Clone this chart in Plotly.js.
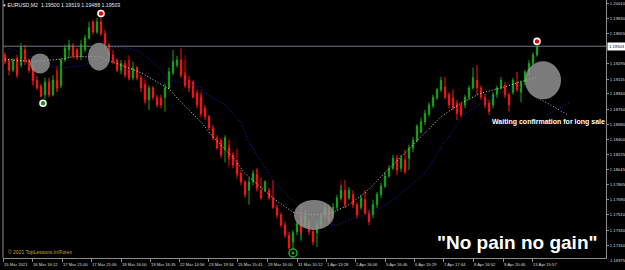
<!DOCTYPE html>
<html><head><meta charset="utf-8">
<script src="https://cdn.plot.ly/plotly-3.0.1.min.js"></script>
<style>html,body{margin:0;padding:0;background:#000;}#chart{width:625px;height:270px;}</style>
</head><body><div id="chart"></div>
<script>
const symbolName = "EURUSD,M2";
const quote = ["1.19500", "1.19519", "1.19488", "1.19503"];
const currentPrice = 1.19503;

const opens = [1.1940,1.1934,1.1922,1.1936,1.1928,1.1946,1.1934,1.1925,1.1910,1.1903,1.1893,1.1908,1.1893,1.1910,1.1904,1.1934,1.1946,1.1951,1.1946,1.1938,
1.1946,1.1960,1.1979,1.1967,1.1979,1.1965,1.1952,1.1940,1.1934,1.1922,1.1930,1.1922,1.1913,1.1925,1.1913,1.1904,1.1887,1.1901,1.1890,1.1889,
1.1890,1.1901,1.1919,1.1928,1.1934,1.1916,1.1910,1.1908,1.1895,1.1890,1.1877,1.1867,1.1854,1.1842,1.1839,1.1828,1.1830,1.1822,1.1812,1.1800,
1.1790,1.1780,1.1790,1.1798,1.1780,1.1780,1.1780,1.1771,1.1760,1.1751,1.1739,1.1727,1.1719,1.1731,1.1749,1.1739,1.1741,1.1731,1.1730,1.1739,
1.1751,1.1760,1.1751,1.1760,1.1771,1.1780,1.1771,1.1775,1.1763,1.1760,1.1769,1.1753,1.1751,1.1763,1.1775,1.1785,1.1797,1.1806,1.1818,1.1806,
1.1816,1.1818,1.1830,1.1839,1.1849,1.1861,1.1870,1.1880,1.1889,1.1899,1.1902,1.1893,1.1889,1.1883,1.1881,1.1881,1.1890,1.1901,1.1910,1.1901,
1.1890,1.1883,1.1881,1.1893,1.1901,1.1904,1.1893,1.1896,1.1908,1.1896,1.1908,1.1920,1.1930,1.1940];
const highs = [1.1943,1.1936,1.1936,1.1940,1.1954,1.1952,1.1936,1.1928,1.1915,1.1906,1.1913,1.1913,1.1916,1.1922,1.1936,1.1952,1.1958,1.1954,1.1948,1.1958,
1.1964,1.1979,1.1981,1.1984,1.1986,1.1970,1.1954,1.1946,1.1936,1.1934,1.1934,1.1934,1.1932,1.1927,1.1916,1.1907,1.1904,1.1903,1.1893,1.1893,
1.1906,1.1925,1.1946,1.1939,1.1948,1.1920,1.1915,1.1910,1.1899,1.1893,1.1881,1.1869,1.1857,1.1845,1.1842,1.1845,1.1834,1.1825,1.1816,1.1804,
1.1792,1.1795,1.1804,1.1806,1.1795,1.1792,1.1783,1.1792,1.1763,1.1754,1.1743,1.1731,1.1733,1.1745,1.1763,1.1757,1.1745,1.1736,1.1743,1.1752,
1.1765,1.1763,1.1765,1.1775,1.1786,1.1792,1.1784,1.1780,1.1766,1.1775,1.1780,1.1757,1.1769,1.1778,1.1789,1.1802,1.1810,1.1822,1.1822,1.1822,
1.1828,1.1834,1.1843,1.1858,1.1866,1.1875,1.1884,1.1893,1.1901,1.1914,1.1914,1.1896,1.1899,1.1887,1.1884,1.1893,1.1904,1.1925,1.1928,1.1904,
1.1894,1.1887,1.1896,1.1904,1.1914,1.1908,1.1896,1.1913,1.1920,1.1910,1.1922,1.1934,1.1943,1.1953];
const lows = [1.1929,1.1916,1.1920,1.1913,1.1925,1.1928,1.1919,1.1904,1.1899,1.1890,1.1888,1.1890,1.1891,1.1896,1.1901,1.1932,1.1936,1.1936,1.1934,1.1934,
1.1943,1.1958,1.1964,1.1965,1.1962,1.1948,1.1936,1.1929,1.1920,1.1917,1.1913,1.1910,1.1910,1.1910,1.1896,1.1883,1.1875,1.1887,1.1878,1.1877,
1.1873,1.1899,1.1916,1.1925,1.1913,1.1901,1.1896,1.1889,1.1877,1.1869,1.1863,1.1851,1.1839,1.1828,1.1818,1.1813,1.1816,1.1806,1.1797,1.1786,
1.1771,1.1763,1.1786,1.1780,1.1769,1.1778,1.1769,1.1758,1.1747,1.1736,1.1724,1.1710,1.1710,1.1727,1.1727,1.1736,1.1727,1.1715,1.1713,1.1736,
1.1747,1.1741,1.1747,1.1757,1.1769,1.1759,1.1769,1.1759,1.1747,1.1757,1.1751,1.1739,1.1747,1.1759,1.1771,1.1783,1.1795,1.1804,1.1798,1.1802,
1.1799,1.1804,1.1825,1.1837,1.1847,1.1857,1.1867,1.1877,1.1887,1.1896,1.1888,1.1877,1.1875,1.1863,1.1866,1.1877,1.1887,1.1899,1.1893,1.1887,
1.1877,1.1869,1.1877,1.1889,1.1899,1.1889,1.1873,1.1893,1.1896,1.1884,1.1904,1.1916,1.1927,1.1938];
const closes = [1.1932,1.1922,1.1934,1.1916,1.1949,1.1932,1.1922,1.1910,1.1901,1.1891,1.1908,1.1893,1.1910,1.1901,1.1934,1.1948,1.1952,1.1939,1.1938,1.1952,
1.1960,1.1972,1.1967,1.1979,1.1965,1.1952,1.1940,1.1932,1.1922,1.1930,1.1916,1.1913,1.1925,1.1913,1.1901,1.1887,1.1901,1.1890,1.1881,1.1881,
1.1901,1.1920,1.1932,1.1934,1.1916,1.1904,1.1901,1.1890,1.1881,1.1871,1.1867,1.1854,1.1842,1.1830,1.1822,1.1842,1.1819,1.1810,1.1800,1.1790,
1.1775,1.1790,1.1800,1.1783,1.1771,1.1790,1.1771,1.1760,1.1751,1.1739,1.1727,1.1712,1.1730,1.1741,1.1731,1.1749,1.1731,1.1719,1.1739,1.1749,
1.1760,1.1745,1.1760,1.1771,1.1780,1.1763,1.1780,1.1763,1.1751,1.1771,1.1753,1.1743,1.1763,1.1775,1.1785,1.1797,1.1806,1.1818,1.1804,1.1818,
1.1802,1.1830,1.1839,1.1856,1.1861,1.1871,1.1881,1.1890,1.1899,1.1910,1.1890,1.1881,1.1877,1.1871,1.1869,1.1890,1.1901,1.1913,1.1901,1.1890,
1.1881,1.1873,1.1893,1.1901,1.1910,1.1893,1.1881,1.1910,1.1899,1.1907,1.1920,1.1930,1.1940,1.1950];

const darkBars  = [7, 13, 31, 35, 45, 49, 56, 58, 63, 74, 84];
const darkOpen  = [1.1932,1.1925,1.1938,1.1910,1.1934,1.1895,1.1839,1.1828,1.1804,1.1722,1.1786];
const darkHigh  = [1.1934,1.1928,1.1940,1.1913,1.1940,1.1899,1.1842,1.1830,1.1806,1.1751,1.1792];
const darkLow   = [1.1904,1.1896,1.1910,1.1881,1.1904,1.1866,1.1806,1.1792,1.1778,1.1719,1.1766];
const darkClose = [1.1910,1.1901,1.1913,1.1884,1.1910,1.1867,1.1810,1.1796,1.1780,1.1749,1.1769];

const fastMaBars = [0,7,14,17,24,26,29,34,38,41,44,49,52,57,60,62,67,72,77,82,86,90,94,99,104,109,114,119,124,129,133];
const fastMaValues = [1.1935,1.1932,1.1935,1.1938,1.1938,1.1933,1.1928,1.1919,1.1908,1.1900,1.1884,1.1861,1.1843,1.1819,1.1800,1.1792,1.1771,1.1754,1.1751,1.1754,1.1763,1.1777,1.1796,1.1819,1.1843,1.1867,1.1883,1.1895,1.1901,1.1908,1.1914];
const slowMaBars = [0,4,9,11,15,20,23,26,27,31,34,38,41,45,49,50,55,59,61,67,71,75,80,83,86,92,96,100,105,109,115,124,133];
const slowMaValues = [1.1949,1.1943,1.1932,1.1926,1.1925,1.1928,1.1934,1.1946,1.1949,1.1948,1.1943,1.1928,1.1910,1.1907,1.1902,1.1895,1.1881,1.1860,1.1837,1.1792,1.1772,1.1754,1.1741,1.1739,1.1745,1.1754,1.1765,1.1780,1.1800,1.1831,1.1871,1.1896,1.1907];
const fastProjBars = [133.75, 140.75];
const fastProjValues = [1.1888, 1.1869];
const slowProjBars = [135.5, 141.25];
const slowProjValues = [1.1869, 1.1884];

const sellSignalBars = [24, 133];
const sellSignalPrices = [1.1989, 1.1956];
const buySignalBars = [9.5];
const buySignalPrices = [1.1883];
const bottomSignalBars = [72];
const bottomSignalPrices = [1.1706];

const zoneBars = [8.75, 23.5, 77.25, 134.5];
const zonePrices = [1.1930, 1.1938, 1.1751, 1.1910];

const timeLabels = ["15 Mar 2021","16 Mar 16:12","17 Mar 21:00","17 Mar 21:06","18 Mar 16:00","19 Mar 16:35","22 Mar 14:56","23 Mar 19:34","25 Mar 15:41","29 Mar 16:00","31 Mar 10:12","1 Apr 13:28","2 Apr 16:06","5 Apr 16:46","6 Apr 15:29","7 Apr 17:44","8 Apr 16:52","9 Apr 20:46","13 Apr 15:57"];
const timeLabelBars = [-0.5,6.75,14.25,21.5,29,36.25,43.5,50.75,58,65.5,73,80.25,87.5,95,102.25,109.5,117,124.5,131.75];
const priceTickLabels = ["1.20010","1.19830","1.19655","1.19295","1.19115","1.18940","1.18760","1.18580","1.18400","1.18225","1.18045","1.17865","1.17690","1.17510","1.17330","1.17150","1.16975"];

const noteText = "Waiting confirmation for long sale";
const mottoText = "\"No pain no gain\"";
const copyrightText = "© 2021 TopLessons.In/Forex";

const bars = opens.map((_, i) => i);
const FONT = "Liberation Sans, Arial, sans-serif";
const axisGrey = "#8c8c8c";
const tickFontSize = 4.2;

const traces = [
  {type:'candlestick', x: darkBars, open: darkOpen, high: darkHigh, low: darkLow, close: darkClose,
   increasing:{line:{color:'#0b6a0b', width:1}, fillcolor:'#0b6a0b'},
   decreasing:{line:{color:'#8c0000', width:1}, fillcolor:'#8c0000'}, hoverinfo:'skip', showlegend:false},
  {type:'candlestick', x: bars, open: opens, high: highs, low: lows, close: closes,
   increasing:{line:{color:'#17a617', width:1}, fillcolor:'#17a617'},
   decreasing:{line:{color:'#ff1414', width:1}, fillcolor:'#ff1414'}, hoverinfo:'skip', showlegend:false},
  {type:'scatter', mode:'lines', x: slowMaBars, y: slowMaValues, line:{color:'#2020d0', width:1, dash:'1px,2px'}, hoverinfo:'skip', showlegend:false},
  {type:'scatter', mode:'lines', x: fastMaBars, y: fastMaValues, line:{color:'#d4d4d4', width:1, dash:'1px,2px'}, hoverinfo:'skip', showlegend:false},
  {type:'scatter', mode:'lines', x: slowProjBars, y: slowProjValues, line:{color:'#2020d0', width:1, dash:'1px,2px'}, hoverinfo:'skip', showlegend:false},
  {type:'scatter', mode:'lines', x: fastProjBars, y: fastProjValues, line:{color:'#bcbcbc', width:1, dash:'1px,2px'}, hoverinfo:'skip', showlegend:false},
  {type:'scatter', mode:'markers', x: sellSignalBars, y: sellSignalPrices, cliponaxis:false,
   marker:{symbol:'circle', size:6, color:'#e00000', line:{color:'#ffffff', width:1.6}}, hoverinfo:'skip', showlegend:false},
  {type:'scatter', mode:'markers', x: buySignalBars, y: buySignalPrices,
   marker:{symbol:'circle', size:6, color:'#0f9a0f', line:{color:'#ffffff', width:1.6}}, hoverinfo:'skip', showlegend:false},
  {type:'scatter', mode:'markers', x: bottomSignalBars, y: bottomSignalPrices, cliponaxis:false,
   marker:{symbol:'circle-open', size:8, color:'#1fa51f', line:{color:'#1fa51f', width:1.5}}, hoverinfo:'skip', showlegend:false},
  {type:'scatter', mode:'markers', x: bottomSignalBars, y: bottomSignalPrices, cliponaxis:false,
   marker:{symbol:'circle', size:3, color:'#1fa51f'}, hoverinfo:'skip', showlegend:false}
];

const zoneSizes = [[10,10],[11,14],[20,15],[18,19]];
const shapes = zoneBars.map((b, k) => ({
  type:'circle', xref:'x', yref:'y', xsizemode:'pixel', ysizemode:'pixel',
  xanchor: b, yanchor: zonePrices[k],
  x0: -zoneSizes[k][0], x1: zoneSizes[k][0], y0: -zoneSizes[k][1], y1: zoneSizes[k][1],
  fillcolor:'rgba(150,150,150,0.82)', line:{width:0}, layer:'above'
}));
shapes.push({type:'line', xref:'paper', yref:'y', x0:0, x1:1, y0:currentPrice, y1:currentPrice,
  line:{color:'#6f7780', width:1}, layer:'above'});
shapes.push({type:'line', xref:'paper', yref:'paper', x0:0, x1:0, y0:0, y1:1,
  line:{color:axisGrey, width:1}, layer:'above'});

const annotations = [];
timeLabels.forEach((t, j) => annotations.push({
  text: t, x: timeLabelBars[j], xref:'x', y:0, yref:'paper', xanchor:'left', yanchor:'top',
  xshift:0, yshift:-3, showarrow:false, borderpad:0, font:{family:FONT, size:4.2, color:'#dcdcdc'}
}));
annotations.push({text: priceTickLabels[priceTickLabels.length-1], x:1, xref:'paper', y:0, yref:'paper',
  xanchor:'left', yanchor:'middle', xshift:3, yshift:-2, showarrow:false, borderpad:0,
  font:{family:FONT, size:tickFontSize, color:'#dcdcdc'}});
annotations.push({text: quote[3], x:1, xref:'paper', y:currentPrice, yref:'y', xanchor:'left', yanchor:'middle',
  xshift:1, showarrow:false, bgcolor:'#ffffff', borderpad:1, font:{family:FONT, size:tickFontSize, color:'#000000'}});
annotations.push({text: '▾ ' + symbolName + '  ' + quote.join(' '), x:0, xref:'paper', y:1, yref:'paper',
  xanchor:'left', yanchor:'top', xshift:-1, yshift:-1, showarrow:false, borderpad:0,
  font:{family:FONT, size:5.2, color:'#e8e8e8'}});
annotations.push({text: copyrightText, x:0, xref:'paper', y:0, yref:'paper', xanchor:'left', yanchor:'bottom',
  xshift:4, yshift:2, showarrow:false, borderpad:0, font:{family:FONT, size:5, color:'#c9a227'}});
annotations.push({text: '<b>' + noteText + '</b>', x:121.5, xref:'x', y:1.1861, yref:'y', xanchor:'left', yanchor:'middle',
  showarrow:false, borderpad:0, font:{family:FONT, size:7, color:'#ffffff'}});
annotations.push({text: '<b>' + mottoText + '</b>', x:0.718, xref:'paper', y:0.062, yref:'paper', xanchor:'left', yanchor:'middle',
  showarrow:false, borderpad:0, font:{family:FONT, size:19, color:'#ffffff'}});

const layout = {
  width:625, height:270,
  margin:{l:3, r:19, t:0, b:12, pad:0},
  paper_bgcolor:'#000000', plot_bgcolor:'#000000',
  showlegend:false, boxgap:0.55, hovermode:false,
  xaxis:{range:[-0.5,150.25], rangeslider:{visible:false}, showgrid:false, zeroline:false,
    showline:true, linecolor:axisGrey, linewidth:1, ticks:'outside', ticklen:3, tickcolor:axisGrey,
    tickvals: timeLabelBars, showticklabels:false, fixedrange:true},
  yaxis:{range:[1.17001,1.20049], side:'right', showgrid:false, zeroline:false,
    showline:true, linecolor:axisGrey, linewidth:1, ticks:'outside', ticklen:2, tickcolor:axisGrey,
    tickvals: priceTickLabels.slice(0,-1).map(Number), ticktext: priceTickLabels.slice(0,-1),
    tickfont:{family:FONT, size:tickFontSize, color:'#dcdcdc'}, fixedrange:true},
  shapes: shapes,
  annotations: annotations
};

Plotly.newPlot('chart', traces, layout, {displayModeBar:false, staticPlot:true});
</script>
</body></html>
